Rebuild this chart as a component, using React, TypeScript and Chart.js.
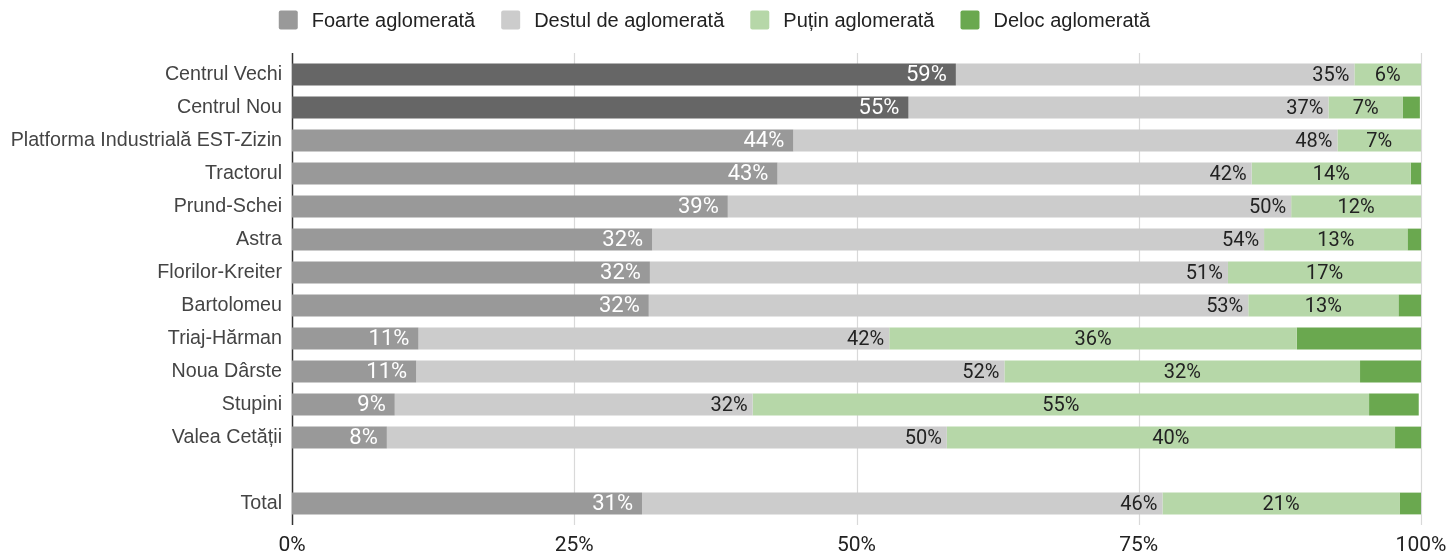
import React, { useEffect, useRef } from "react";
import { Chart, registerables } from "chart.js";

Chart.register(...registerables);

const categories = [
  "Centrul Vechi",
  "Centrul Nou",
  "Platforma Industrială EST-Zizin",
  "Tractorul",
  "Prund-Schei",
  "Astra",
  "Florilor-Kreiter",
  "Bartolomeu",
  "Triaj-Hărman",
  "Noua Dârste",
  "Stupini",
  "Valea Cetății",
  "",
  "Total",
];

const seriesNames = ["Foarte aglomerată", "Destul de aglomerată", "Puțin aglomerată", "Deloc aglomerată"];

const foarte = [58.8, 54.6, 44.4, 43.0, 38.6, 31.9, 31.7, 31.6, 11.2, 11.0, 9.1, 8.4, null, 31.0];
const destul = [35.3, 37.2, 48.2, 42.0, 49.9, 54.2, 51.2, 53.1, 41.7, 52.1, 31.7, 49.6, null, 46.1];
const putin = [5.9, 6.6, 7.4, 14.1, 11.5, 12.7, 17.1, 13.3, 36.1, 31.5, 54.6, 39.7, null, 21.0];
const deloc = [0, 1.5, 0, 0.9, 0, 1.2, 0, 2.0, 11.0, 5.4, 4.4, 2.3, null, 1.9];

const xTicks = [0, 25, 50, 75, 100];

const darkRows = ["Centrul Vechi", "Centrul Nou"];
const seriesColors = ["#999999", "#cccccc", "#b6d7a8", "#6aa84f"];

export default function App() {
  const ref = useRef<HTMLCanvasElement | null>(null);

  useEffect(() => {
    document.body.style.margin = "0";
    const canvas = ref.current;
    if (!canvas) return;

    const gridPlugin = {
      id: "customGrid",
      beforeDatasetsDraw(chart: any) {
        const { ctx, chartArea } = chart;
        const xs = chart.scales.x;
        ctx.save();
        xTicks.forEach((t) => {
          const x = Math.round(xs.getPixelForValue(t)) + 0.5;
          ctx.beginPath();
          ctx.strokeStyle = t === 0 ? "#333333" : "#d9d9d9";
          ctx.lineWidth = t === 0 ? 1.5 : 1.2;
          ctx.moveTo(x, chartArea.top - 5);
          ctx.lineTo(x, chartArea.bottom + 5);
          ctx.stroke();
        });
        ctx.restore();
      },
    };

    const labelPlugin = {
      id: "valueLabels",
      afterDatasetsDraw(chart: any) {
        const { ctx } = chart;
        ctx.save();
        ctx.textBaseline = "middle";
        [0, 1, 2].forEach((di) => {
          const meta = chart.getDatasetMeta(di);
          const data = chart.data.datasets[di].data as (number | null)[];
          meta.data.forEach((el: any, i: number) => {
            const v = data[i];
            if (v == null || v === 0) return;
            const txt = Math.round(v) + "%";
            if (di === 0) {
              ctx.font = "22px Roboto";
              ctx.fillStyle = "#ffffff";
              ctx.textAlign = "right";
              ctx.fillText(txt, el.x - 9, el.y + 1);
            } else if (di === 1) {
              ctx.font = "20px Roboto";
              ctx.fillStyle = "#222222";
              ctx.textAlign = "right";
              ctx.fillText(txt, el.x - 5, el.y + 1);
            } else {
              ctx.font = "20px Roboto";
              ctx.fillStyle = "#222222";
              ctx.textAlign = "center";
              ctx.fillText(txt, (el.x + el.base) / 2, el.y + 1);
            }
          });
        });
        ctx.restore();
      },
    };

    const legendPlugin = {
      id: "customLegend",
      afterDraw(chart: any) {
        const { ctx } = chart;
        ctx.save();
        ctx.font = "20px 'Liberation Sans'";
        ctx.textBaseline = "middle";
        ctx.textAlign = "left";
        const box = 19;
        const gapText = 14;
        const gapItem = 26;
        const widths = seriesNames.map((n) => box + gapText + ctx.measureText(n).width);
        const total = widths.reduce((a, b) => a + b, 0) + gapItem * (seriesNames.length - 1);
        let x = chart.width / 2 - 10 - total / 2;
        const cy = 20;
        seriesNames.forEach((n, i) => {
          ctx.fillStyle = seriesColors[i];
          ctx.beginPath();
          (ctx as any).roundRect(x, cy - box / 2, box, box, 2);
          ctx.fill();
          ctx.fillStyle = "#222222";
          ctx.fillText(n, x + box + gapText, cy + 1);
          x += widths[i] + gapItem;
        });
        ctx.restore();
      },
    };

    const chart = new Chart(canvas, {
      type: "bar",
      data: {
        labels: categories,
        datasets: [
          {
            label: seriesNames[0],
            data: foarte,
            backgroundColor: categories.map((c) => (darkRows.includes(c) ? "#666666" : "#999999")),
          },
          { label: seriesNames[1], data: destul, backgroundColor: seriesColors[1] },
          { label: seriesNames[2], data: putin, backgroundColor: seriesColors[2] },
          { label: seriesNames[3], data: deloc, backgroundColor: seriesColors[3] },
        ],
      },
      options: {
        indexAxis: "y",
        animation: false,
        responsive: true,
        maintainAspectRatio: false,
        layout: { padding: { top: 58, right: 28, bottom: 0, left: 0 } },
        datasets: { bar: { barPercentage: 1, categoryPercentage: 0.66 } },
        plugins: { legend: { display: false }, tooltip: { enabled: false } },
        scales: {
          x: {
            stacked: true,
            min: 0,
            max: 100,
            afterBuildTicks(scale: any) {
              scale.ticks = xTicks.map((v) => ({ value: v }));
            },
            afterFit(scale: any) {
              scale.height = 34;
              scale.paddingLeft = 0;
              scale.paddingRight = 0;
            },
            grid: { display: false, drawTicks: false },
            border: { display: false },
            ticks: {
              callback: (v: any) => v + "%",
              font: { family: "Roboto", size: 21 },
              color: "#222222",
              padding: 13,
              maxRotation: 0,
              autoSkip: false,
            },
          },
          y: {
            stacked: true,
            afterFit(scale: any) {
              scale.width = 292;
              scale.paddingTop = 0;
              scale.paddingBottom = 0;
            },
            grid: { display: false, drawTicks: false },
            border: { display: false },
            ticks: {
              font: { family: "'Liberation Sans'", size: 19.7 },
              color: "#444444",
              padding: 10,
              autoSkip: false,
            },
          },
        },
      },
      plugins: [gridPlugin, labelPlugin, legendPlugin],
    });

    return () => chart.destroy();
  }, []);

  return (
    <div style={{ position: "absolute", left: 0, top: 0, width: 1449, height: 554 }}>
      <canvas ref={ref} />
    </div>
  );
}
